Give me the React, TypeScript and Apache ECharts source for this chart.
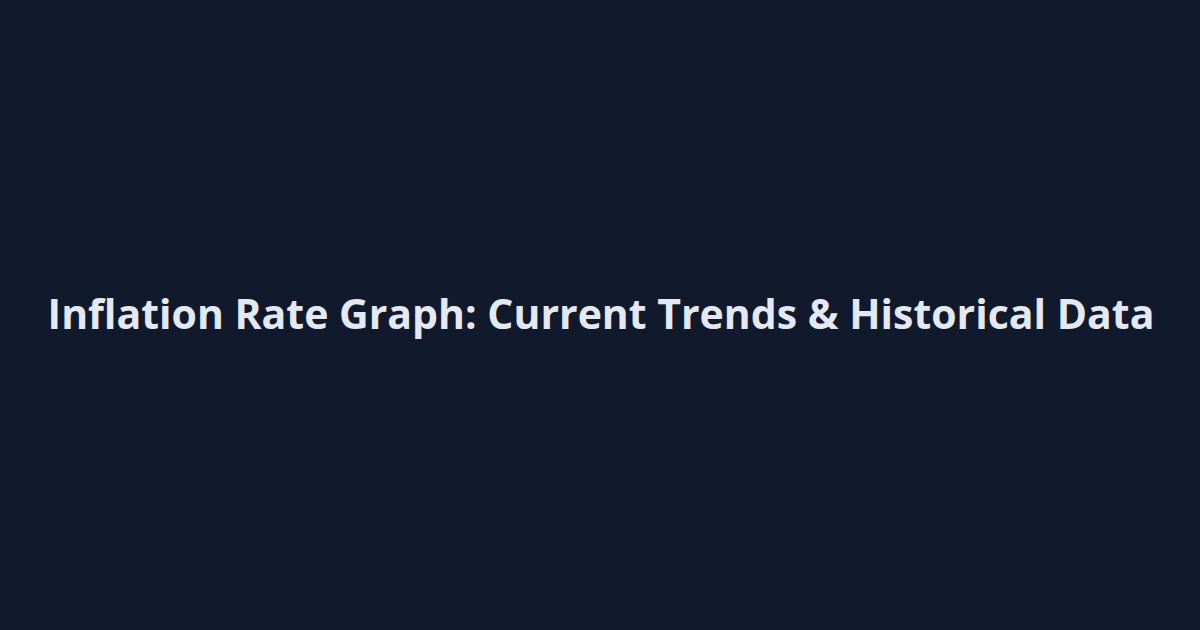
import React, { useEffect, useRef } from 'react'
import * as echarts from 'echarts'

const titleText = 'Inflation Rate Graph: Current Trends & Historical Data'

const App = () => {
  const chartRef = useRef<HTMLDivElement | null>(null)

  useEffect(() => {
    document.body.style.margin = '0'
    if (!chartRef.current) return

    const myChart = echarts.init(chartRef.current, null, { renderer: 'svg' })

    myChart.setOption({
      animation: false,
      backgroundColor: '#111A2C',
      graphic: [
        {
          type: 'text',
          x: 601,
          y: 313,
          style: {
            text: titleText,
            fill: '#E4E8F0',
            font: '700 41px "Open Sans"',
            align: 'center',
            verticalAlign: 'middle',
          },
        },
      ],
    })

    return () => {
      myChart.dispose()
    }
  }, [])

  return <div ref={chartRef} style={{ width: 1200, height: 630 }} />
}

export default App
